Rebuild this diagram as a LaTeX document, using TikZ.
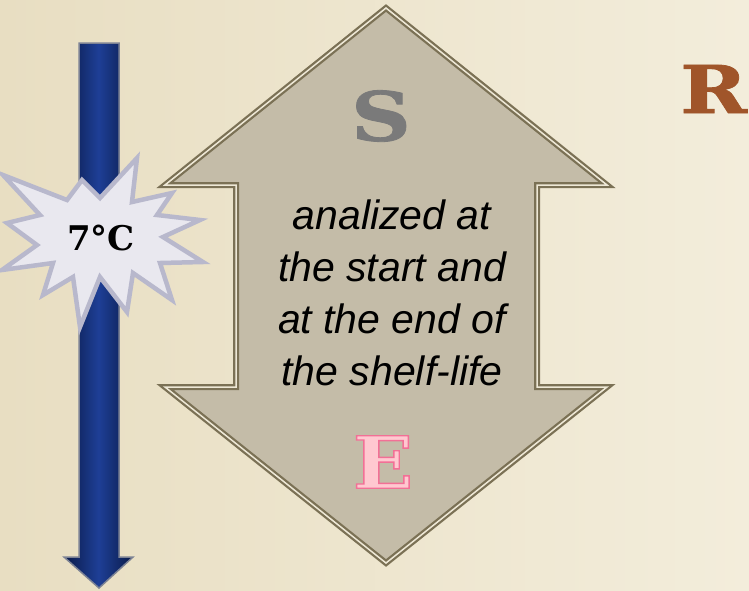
\documentclass[tikz,border=0pt]{standalone}
\usepackage{fontspec}
\setmainfont{DejaVu Serif}
\newfontfamily\italsans{Liberation Sans}
\newfontfamily\slabplain{DejaVu Serif}
\newfontfamily\slabpink[FakeStretch=1.1,FakeBold=2]{DejaVu Serif}
\newfontfamily\slabheavy[FakeStretch=1.22,FakeBold=1.2]{DejaVu Serif}
\definecolor{bgL}{HTML}{E8DEC2}
\definecolor{bgR}{HTML}{F3EDDB}
\definecolor{arrfill}{HTML}{C4BCA8}
\definecolor{arrdark}{HTML}{7B7155}
\definecolor{arrlight}{HTML}{EEE8D6}
\definecolor{navyD}{HTML}{0A1A48}
\definecolor{navyM}{HTML}{1E3F96}
\definecolor{navyEdge}{HTML}{7C8294}
\definecolor{starfill}{HTML}{E9E8EF}
\definecolor{stardraw}{HTML}{B8B8CC}
\definecolor{sgray}{HTML}{7A7A7A}
\definecolor{epink}{HTML}{FFC8D0}
\definecolor{rbrown}{HTML}{A0552A}
\newcommand{\outlinedE}{\special{pdf:code q 0.95 0.44 0.59 RG}E\special{pdf:code Q}}
\tikzset{
  bigletter/.style={font=\slabheavy\bfseries\fontsize{68}{68}\selectfont, inner sep=0pt},
  bodytext/.style={font=\italsans\itshape\fontsize{41}{52}\selectfont, align=center, inner sep=0pt},
  arrowpath/.style={line join=miter},
}
\begin{document}
\begin{tikzpicture}[x=1pt,y=-1pt]
\useasboundingbox (0,0) rectangle (749,590);
% background
\shade[left color=bgL, right color=bgR] (0,0) rectangle (749,590);

% blue downward arrow
\shade[left color=navyD, right color=navyD, middle color=navyM, draw=navyEdge, line width=1.5pt, line join=miter]
  (79,43) -- (119,43) -- (119,557) -- (133,557) -- (99,588) -- (64,557) -- (79,557) -- cycle;

% double arrow
\path[fill=arrfill] (386,8) -- (607,185) -- (537,185) -- (537,387) -- (607,387) -- (386,563)
  -- (165,387) -- (236,387) -- (236,185) -- (165,185) -- cycle;
\draw[arrowpath, arrdark, line width=6pt] (386,8) -- (607,185) -- (537,185) -- (537,387) -- (607,387) -- (386,563)
  -- (165,387) -- (236,387) -- (236,185) -- (165,185) -- cycle;
\draw[arrowpath, arrlight, line width=1.5pt] (386,8) -- (607,185) -- (537,185) -- (537,387) -- (607,387) -- (386,563)
  -- (165,387) -- (236,387) -- (236,185) -- (165,185) -- cycle;

% starburst
\draw[fill=starfill, draw=stardraw, line width=4.5pt, line join=miter]
  (82,180) -- (100,198) -- (137,158) -- (132,202) -- (172,193) -- (157,215) -- (200,220)
  -- (163,237) -- (203,262) -- (160,263) -- (172,300) -- (133,273) -- (127,312) -- (100,277)
  -- (80,327) -- (73,277) -- (43,295) -- (53,263) -- (2,270) -- (37,245) -- (7,223)
  -- (40,215) -- (3,175) -- (67,200) -- cycle;

% 7C label
\node[font=\slabplain\bfseries\fontsize{34}{34}\selectfont, text=black, inner sep=0pt] (temp) at (101,238) {7°C};

% letters
\node[bigletter, text=sgray] (S) at (381,116) {S};
\node[bigletter, font=\slabheavy\bfseries\fontsize{66}{66}\selectfont, text=rbrown, anchor=west] (R) at (680,89) {R};
\node[font=\slabpink\bfseries\fontsize{72}{72}\selectfont, inner sep=0pt, text=epink] (E) at (383,462) {\outlinedE};

% body text
\node[bodytext] (txt) at (392,293) {analized at\\the start and\\at the end of\\the shelf-life};
\end{tikzpicture}
\end{document}
